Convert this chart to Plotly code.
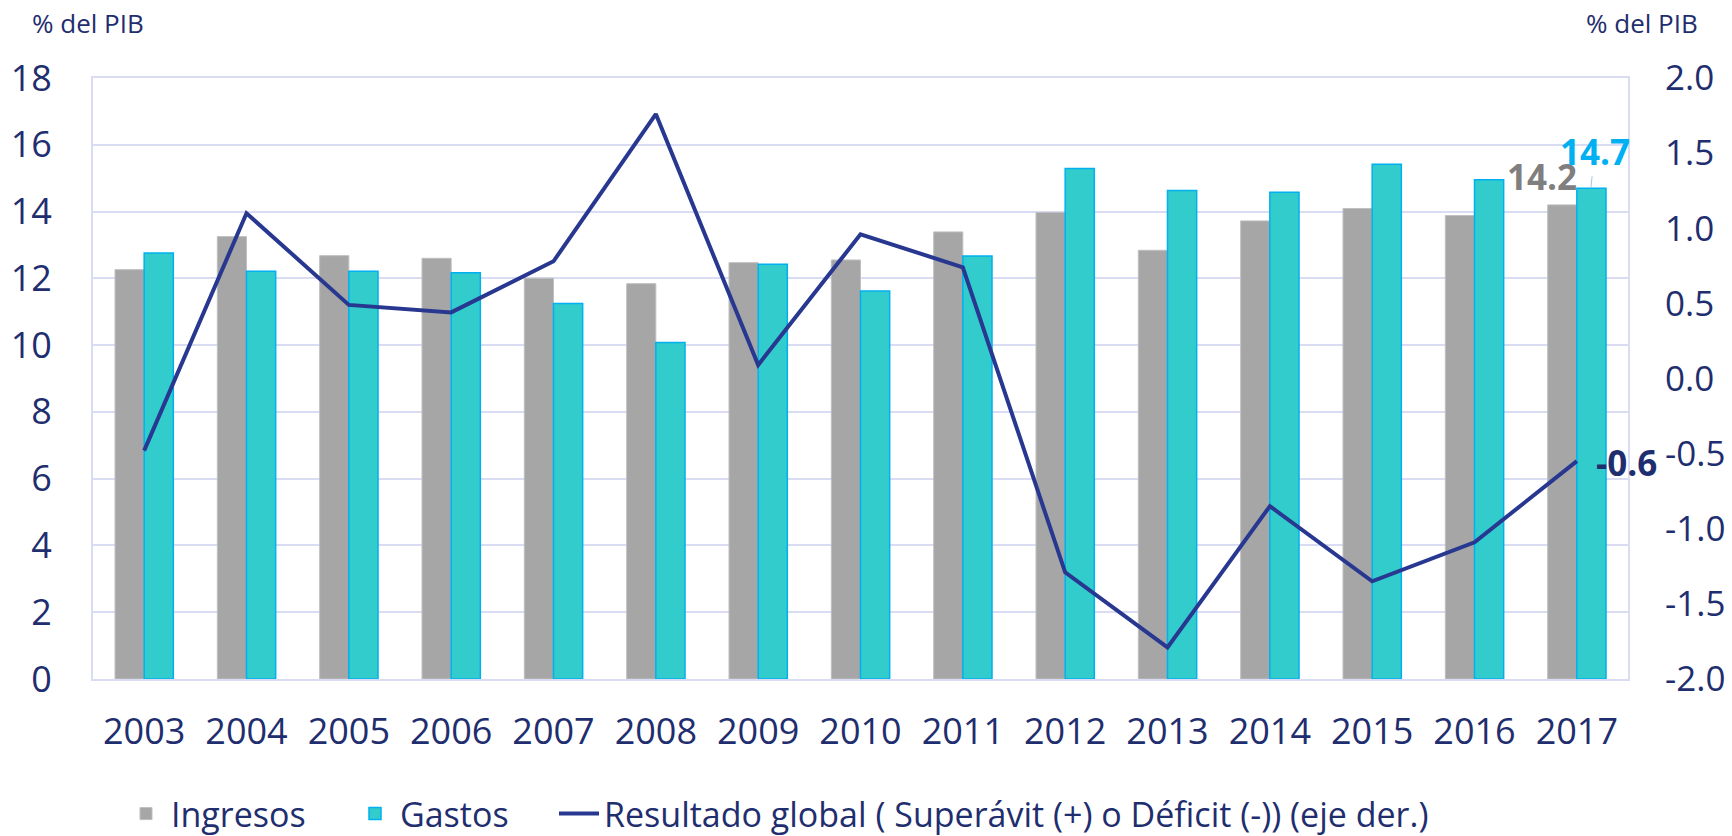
import plotly.graph_objects as go

years = ["2003", "2004", "2005", "2006", "2007", "2008", "2009", "2010",
         "2011", "2012", "2013", "2014", "2015", "2016", "2017"]
ingresos = [12.26, 13.25, 12.68, 12.60, 12.00, 11.84, 12.47, 12.55,
            13.39, 13.97, 12.84, 13.72, 14.09, 13.88, 14.2]
gastos = [12.76, 12.21, 12.21, 12.17, 11.25, 10.08, 12.42, 11.62,
          12.67, 15.29, 14.63, 14.58, 15.42, 14.95, 14.7]
resultado = [-0.48, 1.10, 0.49, 0.44, 0.78, 1.76, 0.09, 0.96,
             0.74, -1.29, -1.79, -0.85, -1.35, -1.09, -0.55]
y2_ticks = [-2.0, -1.5, -1.0, -0.5, 0.0, 0.5, 1.0, 1.5, 2.0]
y2_labels = ["-2.0", "-1.5", "-1.0", "-0.5", "0.0", "0.5", "1.0", "1.5", "2.0"]

NAVY = "#1F2E6E"
GRID = "#D9DCF3"
FONT = "Open Sans"

W, H = 1732, 836
L, R, T, B = 93, 104, 78, 157
PW, PH = W - L - R, H - T - B


def px(x):
    return (x - L) / PW


def py(y):
    return (H - B - y) / PH


last = len(years) - 1

fig = go.Figure()
fig.add_trace(go.Bar(x=years, y=ingresos, name="Ingresos", legend="legend",
                     marker=dict(color="#A6A6A6", line=dict(color="#BFBFBF", width=1))))
fig.add_trace(go.Bar(x=years, y=gastos, name="Gastos", legend="legend2",
                     marker=dict(color="#33CCCC", line=dict(color="#00B0F0", width=1.5))))
fig.add_trace(go.Scatter(x=years, y=resultado, yaxis="y2", mode="lines", legend="legend3",
                         name="Resultado global ( Superávit (+) o Déficit (-)) (eje der.)",
                         line=dict(color="#283891", width=4)))

fig.add_annotation(x=last, y=ingresos[-1], text="<b>14.2</b>", showarrow=False,
                   xshift=-35, yshift=28, font=dict(family=FONT, size=35, color="#7F7F7F"))
fig.add_annotation(x=last, y=gastos[-1], text="<b>14.7</b>", showarrow=True,
                   arrowhead=0, arrowwidth=1, arrowcolor="#B4BDE8", xshift=14,
                   ax=4, ay=-37, font=dict(family=FONT, size=35, color="#00B0F0"))
fig.add_annotation(x=last, y=resultado[-1], yref="y2", text="<b>-0.6</b>", showarrow=False,
                   xanchor="left", xshift=17, yshift=-1,
                   font=dict(family=FONT, size=35, color=NAVY))

fig.add_annotation(xref="paper", yref="paper", x=px(30), y=py(23),
                   xanchor="left", yanchor="middle", text="% del PIB", showarrow=False,
                   font=dict(family=FONT, size=26, color=NAVY))
fig.add_annotation(xref="paper", yref="paper", x=px(1584), y=py(23),
                   xanchor="left", yanchor="middle", text="% del PIB", showarrow=False,
                   font=dict(family=FONT, size=26, color=NAVY))

LEG_FONT = dict(family=FONT, size=34, color=NAVY)
LEG_Y = 1 - 814 / H


def leg(xpix):
    return dict(orientation="h", xref="container", yref="container",
                x=xpix / W, y=LEG_Y, xanchor="left", yanchor="middle",
                font=LEG_FONT, itemwidth=40, bgcolor="rgba(0,0,0,0)")


fig.update_layout(
    width=W, height=H,
    margin=dict(l=L, r=R, t=T, b=B, autoexpand=False),
    plot_bgcolor="white", paper_bgcolor="white",
    font=dict(family=FONT, color=NAVY),
    barmode="group", bargap=0.43, bargroupgap=0,
    showlegend=True,
    legend=leg(121),
    legend2=leg(350),
    legend3=leg(554),
    xaxis=dict(type="category", range=[-0.5, last + 0.5], showgrid=False, automargin=False,
               showline=True, linecolor=GRID,
               linewidth=2, mirror=True, ticks="", ticklabelstandoff=20,
               tickfont=dict(family=FONT, size=36, color=NAVY)),
    yaxis=dict(range=[0, 18], dtick=2, showgrid=True, gridcolor=GRID, gridwidth=1.5,
               automargin=False,
               showline=True, linecolor=GRID, linewidth=2, mirror=True, zeroline=False,
               ticks="", ticklabelstandoff=32,
               tickfont=dict(family=FONT, size=36, color=NAVY)),
    yaxis2=dict(range=[-2, 2], tickmode="array", tickvals=y2_ticks, ticktext=y2_labels,
                overlaying="y", side="right", automargin=False,
                showgrid=False, zeroline=False, showline=False, ticks="",
                ticklabelstandoff=36,
                tickfont=dict(family=FONT, size=35, color=NAVY)),
)

fig.write_html("out.html",
               config={"displayModeBar": False},
               post_script="document.body.style.margin='0';"
                           "document.body.style.overflow='hidden';")
